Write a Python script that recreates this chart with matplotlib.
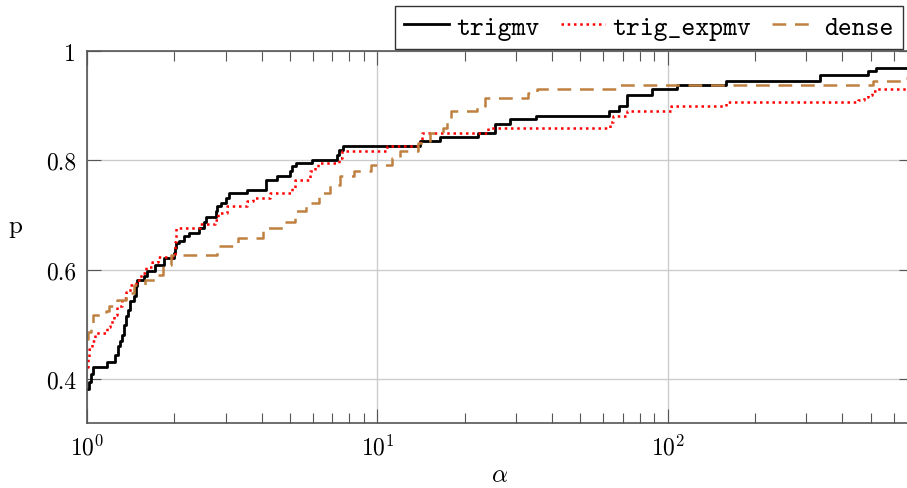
import matplotlib
matplotlib.use("Agg")
import matplotlib.pyplot as plt
from matplotlib.ticker import FixedLocator, FixedFormatter, LogLocator, NullFormatter

plt.rcParams["mathtext.fontset"] = "cm"
plt.rcParams["axes.formatter.use_mathtext"] = True

# performance profile data (step starts)
trigmv_x = [1.0, 1.02, 1.035, 1.05, 1.17, 1.245, 1.28, 1.30, 1.32, 1.34, 1.36, 1.38,
            1.41, 1.45, 1.47, 1.49, 1.57, 1.61, 1.72, 1.84, 1.99, 2.01, 2.03, 2.07,
            2.16, 2.25, 2.43, 2.53, 2.56, 2.78, 2.81, 2.89, 3.01, 3.09, 3.57, 4.13,
            4.53, 5.0, 5.1, 5.26, 5.95, 7.26, 7.4, 7.59, 14.0, 16.5, 22.2, 25.4,
            28.6, 35.3, 63.0, 68.0, 72.7, 88.2, 107.5, 159.0, 336.0, 488.0, 521.0]
trigmv_y = [0.383, 0.395, 0.41, 0.423, 0.432, 0.444, 0.46, 0.47, 0.48, 0.50, 0.515, 0.527,
            0.543, 0.552, 0.570, 0.582, 0.588, 0.597, 0.609, 0.621, 0.63, 0.64, 0.649, 0.652,
            0.661, 0.667, 0.676, 0.688, 0.697, 0.707, 0.716, 0.722, 0.731, 0.740, 0.746, 0.765,
            0.771, 0.780, 0.789, 0.795, 0.801, 0.810, 0.819, 0.826, 0.835, 0.843, 0.850, 0.866,
            0.876, 0.882, 0.891, 0.899, 0.920, 0.930, 0.938, 0.946, 0.957, 0.963, 0.969]

expmv_x = [1.0, 1.01, 1.02, 1.04, 1.065, 1.17, 1.20, 1.24, 1.27, 1.32, 1.36, 1.41,
           1.47, 1.53, 1.60, 1.68, 1.76, 2.01, 2.03, 2.45, 2.76, 2.82, 3.03, 3.55,
           3.74, 4.28, 5.08, 5.21, 5.87, 6.10, 6.27, 7.37, 7.55, 10.8, 14.0, 14.2,
           24.0, 63.5, 65.0, 72.7, 103.0, 159.0, 451.0, 475.0, 488.0, 506.0, 521.0]
expmv_y = [0.423, 0.44, 0.455, 0.47, 0.484, 0.496, 0.505, 0.518, 0.533, 0.548, 0.560, 0.572,
           0.582, 0.594, 0.606, 0.615, 0.624, 0.65, 0.676, 0.683, 0.691, 0.704, 0.716, 0.725,
           0.731, 0.740, 0.749, 0.765, 0.780, 0.788, 0.795, 0.804, 0.818, 0.826, 0.838, 0.850,
           0.859, 0.870, 0.882, 0.891, 0.899, 0.907, 0.911, 0.916, 0.920, 0.926, 0.930]

dense_x = [1.0, 1.01, 1.03, 1.05, 1.16, 1.19, 1.27, 1.36, 1.45, 1.59, 1.73, 1.82,
           1.94, 2.80, 3.30, 4.05, 4.80, 5.20, 5.70, 6.30, 6.85, 7.45, 8.30, 9.5,
           11.2, 12.0, 13.8, 14.5, 15.2, 16.9, 17.4, 18.0, 22.0, 23.5, 33.0, 35.5,
           68.5, 510.0, 650.0]
dense_y = [0.474, 0.487, 0.502, 0.518, 0.525, 0.533, 0.545, 0.557, 0.572, 0.582, 0.591, 0.609,
           0.627, 0.643, 0.659, 0.676, 0.688, 0.707, 0.722, 0.740, 0.755, 0.771, 0.780, 0.792,
           0.805, 0.818, 0.832, 0.835, 0.850, 0.859, 0.874, 0.891, 0.899, 0.914, 0.923, 0.930,
           0.938, 0.946, 0.951]

x_max = 700.0

fig = plt.figure(figsize=(9.07, 4.89), dpi=100)
ax = fig.add_axes([87 / 907, 65 / 489, 826 / 907, 372 / 489])

# extend each profile to the right edge
ax.step(trigmv_x + [x_max], trigmv_y + [trigmv_y[-1]], where="post",
        color="black", lw=2.0, label=r"trigmv")
ax.step(expmv_x + [x_max], expmv_y + [expmv_y[-1]], where="post",
        color="red", lw=1.8, ls=(0, (1, 1.5)), label=r"trig_expmv")
ax.step(dense_x + [x_max], dense_y + [dense_y[-1]], where="post",
        color="#bf8040", lw=1.8, ls=(0, (5.5, 3.5)), label=r"dense")

ax.set_xscale("log")
ax.set_xlim(1, x_max)
ax.set_ylim(0.32, 1.0)

ax.xaxis.set_major_locator(FixedLocator([1, 10, 100]))
ax.xaxis.set_major_formatter(FixedFormatter([r"$10^{0}$", r"$10^{1}$", r"$10^{2}$"]))
ax.xaxis.set_minor_locator(LogLocator(base=10, subs=range(2, 10)))
ax.xaxis.set_minor_formatter(NullFormatter())
ax.yaxis.set_major_locator(FixedLocator([0.4, 0.6, 0.8, 1.0]))
ax.yaxis.set_major_formatter(FixedFormatter(["0.4", "0.6", "0.8", "1"]))

for lab in ax.get_xticklabels() + ax.get_yticklabels():
    lab.set_fontsize(17)
for lab in ax.get_yticklabels():
    lab.set_family("cmr10")

ax.tick_params(which="both", direction="in", top=True, right=True, color="#555555")
ax.tick_params(which="major", length=10, width=0.8, pad=8)
ax.tick_params(which="minor", length=7, width=0.8)
ax.grid(True, which="major", color="#cccccc", lw=1.0)
for s in ax.spines.values():
    s.set_color("#555555")
    s.set_linewidth(1.2)

ax.set_xlabel(r"$\alpha$", fontsize=18, labelpad=2)
ax.set_ylabel("p", fontsize=18, family="cmr10", rotation=0, labelpad=22)

leg = ax.legend(loc="lower left", bbox_to_anchor=(308 / 826, 1.006), ncol=3,
                prop={"family": "cmtt10", "size": 19}, frameon=True, fancybox=False,
                edgecolor="black", borderaxespad=0, handlelength=1.7,
                columnspacing=0.8, handletextpad=0.27, borderpad=0.35)
leg.get_frame().set_linewidth(1.0)

fig.savefig("out.png", dpi=100)
